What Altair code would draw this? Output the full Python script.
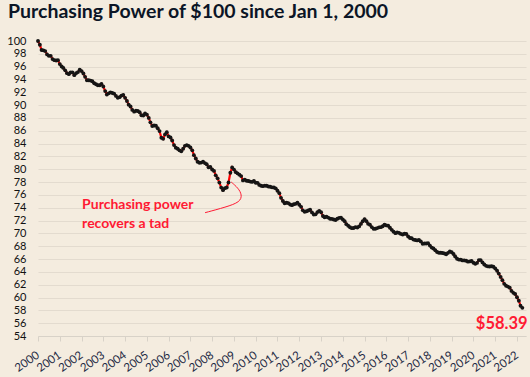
import altair as alt
import pandas as pd

# Purchasing power of $100 (Jan 2000 = 100), monthly values
pp_2000 = [100.0, 99.41, 98.60, 98.54, 98.43, 97.91, 97.69, 97.69, 97.18, 97.01, 96.96, 97.01]
pp_2001 = [96.40, 96.02, 95.80, 95.42, 94.99, 94.83, 95.10, 95.10, 94.67, 94.99, 95.15, 95.53]
pp_2002 = [95.31, 94.94, 94.41, 93.88, 93.88, 93.83, 93.72, 93.41, 93.26, 93.10, 93.10, 93.31]
pp_2003 = [92.90, 92.19, 91.64, 91.84, 91.99, 91.89, 91.79, 91.44, 91.14, 91.24, 91.49, 91.59]
pp_2004 = [91.14, 90.65, 90.07, 89.79, 89.26, 88.98, 89.12, 89.08, 88.89, 88.42, 88.38, 88.70]
pp_2005 = [88.51, 88.01, 87.32, 86.74, 86.83, 86.79, 86.39, 85.95, 84.91, 84.74, 85.43, 85.77]
pp_2006 = [85.12, 84.95, 84.48, 83.77, 83.36, 83.19, 82.95, 82.79, 83.19, 83.65, 83.77, 83.65]
pp_2007 = [83.39, 82.95, 82.20, 81.67, 81.17, 81.02, 81.04, 81.19, 80.96, 80.79, 80.31, 80.37]
pp_2008 = [79.97, 79.74, 79.05, 78.58, 77.92, 77.14, 76.74, 77.05, 77.15, 77.94, 79.46, 80.29]
pp_2009 = [79.95, 79.55, 79.36, 79.16, 78.93, 78.26, 78.38, 78.21, 78.16, 78.08, 78.03, 78.17]
pp_2010 = [77.90, 77.88, 77.56, 77.43, 77.37, 77.44, 77.43, 77.32, 77.28, 77.18, 77.15, 77.02]
pp_2011 = [76.65, 76.27, 75.54, 75.05, 74.70, 74.78, 74.72, 74.51, 74.40, 74.55, 74.61, 74.80]
pp_2012 = [74.47, 74.14, 73.59, 73.36, 73.45, 73.56, 73.68, 73.27, 72.94, 72.97, 73.32, 73.52]
pp_2013 = [73.30, 72.71, 72.52, 72.59, 72.46, 72.29, 72.26, 72.17, 72.09, 72.28, 72.42, 72.43]
pp_2014 = [72.16, 71.90, 71.44, 71.20, 70.95, 70.82, 70.85, 70.97, 70.91, 71.09, 71.48, 71.89]
pp_2015 = [72.23, 71.91, 71.49, 71.34, 70.98, 70.73, 70.73, 70.83, 70.94, 70.97, 71.12, 71.37]
pp_2016 = [71.25, 71.19, 70.88, 70.55, 70.27, 70.04, 70.15, 70.08, 69.92, 69.83, 69.94, 69.92]
pp_2017 = [69.51, 69.29, 69.24, 69.03, 68.97, 68.91, 68.96, 68.75, 68.39, 68.43, 68.43, 68.47]
pp_2018 = [68.10, 67.79, 67.64, 67.37, 67.09, 66.99, 66.98, 66.94, 66.87, 66.75, 66.97, 67.19]
pp_2019 = [67.06, 66.78, 66.40, 66.05, 65.91, 65.90, 65.79, 65.79, 65.74, 65.59, 65.63, 65.69]
pp_2020 = [65.43, 65.25, 65.40, 65.84, 65.84, 65.48, 65.15, 64.94, 64.85, 64.83, 64.87, 64.80]
pp_2021 = [64.53, 64.18, 63.73, 63.21, 62.71, 62.13, 61.83, 61.70, 61.54, 61.03, 60.73, 60.54]
pp_2022 = [60.04, 59.50, 58.71, 58.39]

years = list(range(2000, 2023))
y_ticks = list(range(54, 101, 2))

series = (pp_2000 + pp_2001 + pp_2002 + pp_2003 + pp_2004 + pp_2005 + pp_2006 +
          pp_2007 + pp_2008 + pp_2009 + pp_2010 + pp_2011 + pp_2012 + pp_2013 +
          pp_2014 + pp_2015 + pp_2016 + pp_2017 + pp_2018 + pp_2019 + pp_2020 +
          pp_2021 + pp_2022)
dates = pd.date_range("2000-01-01", periods=len(series), freq="MS").strftime("%Y-%m-%d")
df = pd.DataFrame({"date": dates, "value": series})

# annotation texts and anchors (data units)
note_lines = ["Purchasing power", "recovers a tad"]
note_anchor = {"date": "2002-01-10", "value": 73.8}
end_label = "$58.39"
end_anchor = {"date": "2021-04-20", "value": 55.1}
curve_dates = ["2007-09-04", "2008-08-22", "2009-04-14", "2009-05-17", "2009-03-12", "2008-11-15"]
curve_values = [73.23, 74.11, 74.89, 75.99, 77.08, 78.01]

FONT = "Lato"
RED = "#ff1a33"

x_enc = alt.X(
    "date:T",
    scale=alt.Scale(domain=["2000-01-01", "2022-06-01"]),
    axis=alt.Axis(
        values=[alt.DateTime(year=y, month=1, date=1) for y in years],
        format="%Y", labelAngle=-35, grid=False, title=None, labelOverlap=False,
        domainColor="#d8d2c8", tickColor="#d8d2c8", tickSize=5,
        labelColor="#1e2a44", labelFontSize=11.5, labelFont=FONT, labelPadding=13,
        labelAlign="right", labelBaseline="middle",
    ),
)
y_enc = alt.Y(
    "value:Q",
    scale=alt.Scale(domain=[54, 100], nice=False, zero=False),
    axis=alt.Axis(
        values=y_ticks, grid=True, gridColor="#e3dbcf", domain=False, ticks=False,
        labelOverlap=False, labelColor="#111111", labelFontSize=11, labelFont=FONT,
        labelPadding=12, title=None,
    ),
)

base = alt.Chart(df)
line = base.mark_line(color="#ff0000", strokeWidth=2.2).encode(x=x_enc, y=y_enc)
dots = base.mark_circle(color="#151515", size=15, opacity=1).encode(x=x_enc, y=y_enc)

curve_df = pd.DataFrame({"date": curve_dates, "value": curve_values, "order": list(range(len(curve_dates)))})
curve = alt.Chart(curve_df).mark_line(color=RED, strokeWidth=1, interpolate="basis").encode(
    x=x_enc, y=y_enc, order="order:Q"
)

note_df = pd.DataFrame([{"date": note_anchor["date"], "value": note_anchor["value"], "t": note_lines}])
note = alt.Chart(note_df).mark_text(
    align="left", baseline="alphabetic", color=RED, font=FONT, fontSize=14,
    fontWeight="bold", lineHeight=19,
).encode(x=x_enc, y=y_enc, text="t")

end_df = pd.DataFrame([{"date": end_anchor["date"], "value": end_anchor["value"], "t": end_label}])
end = alt.Chart(end_df).mark_text(
    align="center", baseline="alphabetic", color=RED, font=FONT, fontSize=16.5, fontWeight="bold",
).encode(x=x_enc, y=y_enc, text="t:N")

chart = (
    alt.layer(line, dots, curve, note, end)
    .properties(
        width=488, height=295,
        autosize=alt.AutoSizeParams(type="none"),
        padding={"left": 38, "top": 41, "right": 4, "bottom": 41},
        background="#f4ecdf",
        title=alt.TitleParams(
            "Purchasing  Power of $100 since Jan 1, 2000",
            anchor="start", frame="group", dx=-30, offset=13, fontSize=19.5, font=FONT,
            fontWeight="bold", color="#0b1526",
        ),
    )
    .configure_view(stroke=None)
    .configure_axis(labelOverlap=False)
)

chart.save("out.html", embed_options={"renderer": "svg", "actions": False})
